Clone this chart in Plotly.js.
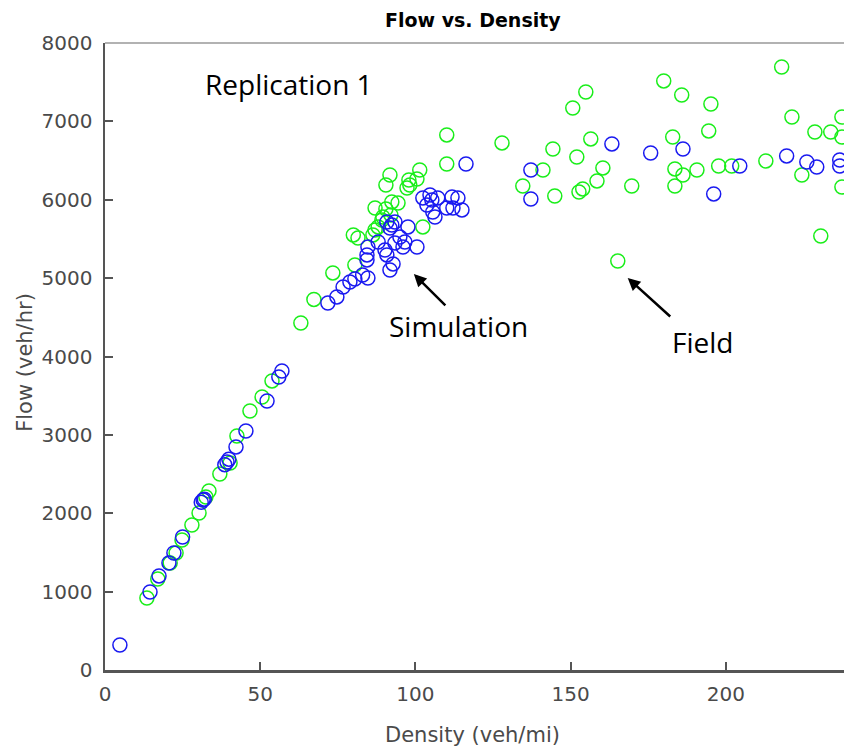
<!DOCTYPE html>
<html>
<head>
<meta charset="utf-8">
<script src="https://cdn.plot.ly/plotly-3.0.1.min.js"></script>
<style>
html,body{margin:0;padding:0;overflow:hidden;background:#fff;}
#chart{width:900px;height:753px;}
</style>
</head>
<body>
<div id="chart"></div>
<script>
// Field measurements (green)
const fieldDensity = [13.5,17,21,22.9,24.8,28,30.3,32.5,33.5,37,40.3,42.5,46.7,50.6,53.8,63.1,67.3,73.4,80.5,80,81.5,86.3,87,88,89.2,89.5,92.1,87,90.5,92.4,94.4,90.5,91.8,97.3,98.2,97.9,100.5,101.4,102.4,110.1,110.1,127.9,134.6,141.1,144.3,144.9,150.7,154.9,152,156.5,160.4,158.5,152.7,153.9,165.2,169.7,180,185.8,182.9,183.6,186.2,183.6,190.7,195.2,194.5,197.7,201.9,212.9,218,221.3,224.5,228.7,233.8,230.6,237.4,237.4,237.4];
const fieldFlow = [919,1161,1365,1493,1659,1850,2003,2207,2284,2501,2641,2986,3305,3483,3688,4428,4728,5066,5168,5551,5512,5551,5614,5653,5742,5780,5806,5895,5882,5972,5959,6188,6316,6150,6188,6252,6265,6380,5653,6827,6456,6725,6176,6380,6648,6048,7171,7375,6546,6776,6406,6240,6099,6138,5219,6176,7516,7337,6801,6393,6316,6176,6380,7222,6878,6431,6431,6495,7694,7056,6316,6865,6865,5538,6163,6801,7056];

// Simulation output (blue)
const simDensity = [4.8,14.5,17.4,20.6,22.2,25,31,31.6,32,38.6,39.3,39.9,42.2,45.4,52.2,56,57,71.8,74.7,76.7,78.9,80.5,83,84.7,84.4,91.8,92.8,90.8,84.4,84.7,88,90.2,93.4,96,100.5,95,96.6,97.6,92.4,91.8,93.4,90.8,102.4,105.3,104.7,107.2,111.8,113.7,112.1,115,110.1,105.6,106.3,103.7,116.3,137.2,137.2,163.3,175.8,186.2,196.1,204.5,219.6,226.1,229.3,236.7,236.7];
const simFlow = [319,995,1200,1365,1493,1697,2140,2170,2180,2620,2654,2690,2846,3050,3432,3739,3815,4683,4760,4887,4951,4989,5040,5002,5232,5104,5181,5296,5296,5397,5461,5359,5449,5397,5397,5525,5461,5653,5678,5640,5716,5716,6023,5997,6061,6023,6036,6023,5895,5870,5895,5844,5780,5933,6456,6380,6010,6712,6597,6648,6074,6431,6559,6482,6418,6507,6431];

const xTicks = [0,50,100,150,200];
const yTicks = [0,1000,2000,3000,4000,5000,6000,7000,8000];

const mk = (c) => ({symbol:'circle-open', size:14, color:c, line:{width:1.5, color:c}});

const traces = [
  {x: fieldDensity, y: fieldFlow, type:'scatter', mode:'markers', name:'Field', marker: mk('#1aee1a')},
  {x: simDensity, y: simFlow, type:'scatter', mode:'markers', name:'Simulation', marker: mk('#1a1af0')}
];

const tickFont = {family:'DejaVu Sans', size:20, color:'#4a4a4a'};
const annFont = {family:'Open Sans', size:28, color:'#000'};

const layout = {
  width: 900, height: 753,
  margin: {l:105, r:19, t:43, b:83},
  paper_bgcolor:'#fff', plot_bgcolor:'#fff',
  showlegend:false,
  title: {text:'<b>Flow vs. Density</b>', font:{family:'DejaVu Sans', size:19, color:'#000'},
          xref:'paper', x:0.474, xanchor:'center', yref:'container', y:0.973, yanchor:'middle'},
  xaxis: {range:[0,250], tickvals:xTicks, ticktext:xTicks.map(String), ticks:'inside', ticklen:8, tickwidth:2, tickcolor:'#555',
          showline:true, linecolor:'#555', linewidth:2.5, showgrid:false, zeroline:false, tickfont:tickFont, ticklabelstandoff:4},
  yaxis: {range:[0,8000], tickvals:yTicks, ticktext:yTicks.map(String), ticks:'inside', ticklen:8, tickwidth:2, tickcolor:'#555',
          showline:true, linecolor:'#555', linewidth:2.5, showgrid:false, zeroline:false, tickfont:tickFont, ticklabelstandoff:6},
  shapes: [{type:'line', xref:'paper', yref:'paper', x0:0, x1:1, y0:1, y1:1, line:{color:'#999', width:1.5}}],
  annotations: [
    {xref:'paper', yref:'paper', x:0.474, y:-0.1037, text:'Density (veh/mi)', showarrow:false, xanchor:'center', yanchor:'middle',
     font:{family:'DejaVu Sans', size:21, color:'#4a4a4a'}},
    {xref:'paper', yref:'paper', x:-0.103, y:0.49, text:'Flow (veh/hr)', showarrow:false, textangle:-90, xanchor:'center', yanchor:'middle',
     font:{family:'DejaVu Sans', size:21, color:'#4a4a4a'}},
    {xref:'x', yref:'y', x:31.5, y:7480, text:'Replication 1', showarrow:false, xanchor:'left', yanchor:'middle', font:annFont},
    {xref:'x', yref:'y', x:114, y:4390, text:'Simulation', showarrow:false, xanchor:'center', yanchor:'middle', font:annFont},
    {xref:'x', yref:'y', x:192.5, y:4190, text:'Field', showarrow:false, xanchor:'center', yanchor:'middle', font:annFont},
    {xref:'x', yref:'y', x:99.5, y:5053, text:'', showarrow:true, ax:33, ay:33, arrowhead:2, arrowsize:1, arrowwidth:2.5, arrowcolor:'#000'},
    {xref:'x', yref:'y', x:168.4, y:5003, text:'', showarrow:true, ax:44, ay:40, arrowhead:2, arrowsize:1, arrowwidth:2.5, arrowcolor:'#000'}
  ]
};

Plotly.newPlot('chart', traces, layout, {displayModeBar:false, staticPlot:true});
</script>
</body>
</html>
